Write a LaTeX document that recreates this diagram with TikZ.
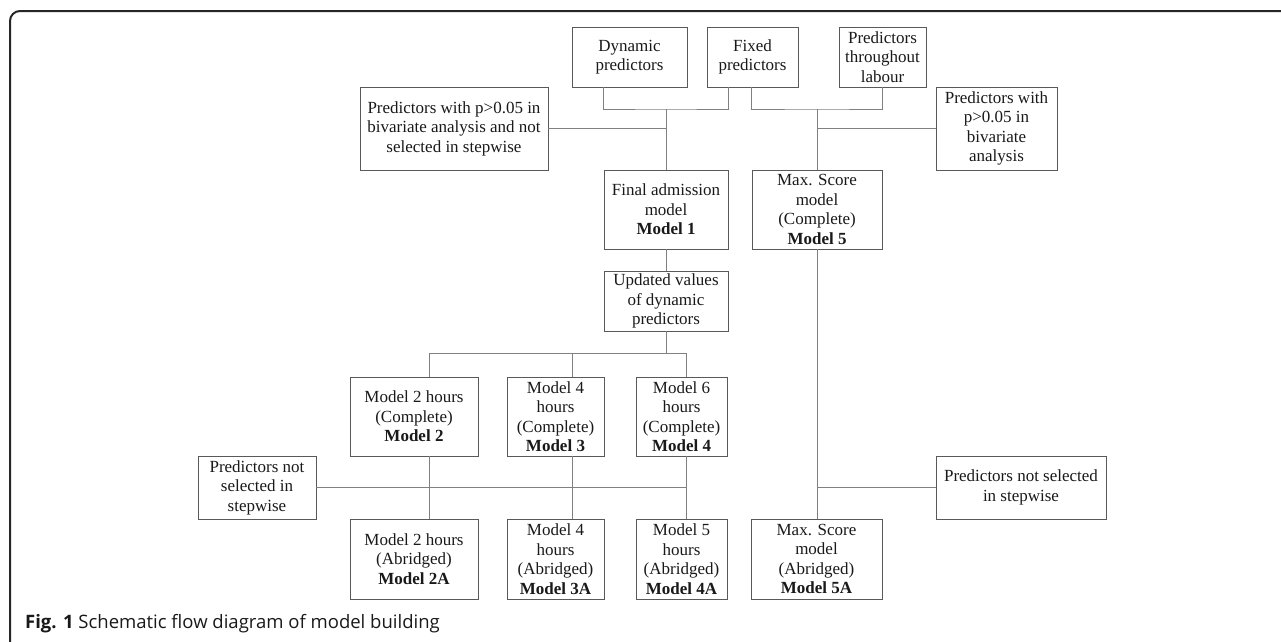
\documentclass[tikz,border=0pt]{standalone}
\usepackage{fontspec}
\setmainfont{Liberation Serif}
\newfontfamily\capfont{Open Sans}
\usetikzlibrary{calc}
\begin{document}
\begin{tikzpicture}[x=1pt,y=-1pt,
  box/.style={draw=black!65, line width=0.9pt, align=center, inner sep=0pt,
    text=black!90, font=\fontsize{17}{19.5}\selectfont},
  conn/.style={draw=black!50, line width=1pt},
  frame/.style={draw=black!85, line width=2pt, rounded corners=10pt}]
\useasboundingbox (0,0) rectangle (1281,641);
\draw[frame] (10,645) -- (10,11) -- (1285,11);

% top row
\node[box, minimum width=115pt, minimum height=60pt] (dyn) at (629.5,57) {Dynamic\\predictors};
\node[box, minimum width=91pt, minimum height=60pt] (fix) at (752.5,57) {Fixed\\predictors};
\node[box, minimum width=87pt, minimum height=60pt] (thr) at (882.5,57) {Predictors\\throughout\\labour};
\node[box, minimum width=188pt, minimum height=83pt] (pl) at (454,128.5) {Predictors with p>0.05 in\\bivariate analysis and not\\selected in stepwise};
\node[box, minimum width=121pt, minimum height=83pt] (pr) at (996.5,128.5) {Predictors with\\p>0.05 in\\bivariate\\analysis};
\node[box, minimum width=124pt, minimum height=79pt] (m1) at (666,209.5) {Final admission\\model\\\textbf{Model 1}};
\node[box, minimum width=130pt, minimum height=79pt] (m5) at (817,209.5) {Max. Score\\model\\(Complete)\\\textbf{Model 5}};
\node[box, minimum width=124pt, minimum height=60pt] (upd) at (666,301) {Updated values\\of dynamic\\predictors};

% complete models
\node[box, minimum width=128pt, minimum height=79pt] (m2) at (414,416.5) {Model 2 hours\\(Complete)\\\textbf{Model 2}};
\node[box, minimum width=97pt, minimum height=79pt] (m3) at (555.5,416.5) {Model 4\\hours\\(Complete)\\\textbf{Model 3}};
\node[box, minimum width=91pt, minimum height=79pt] (m4) at (681.5,416.5) {Model 6\\hours\\(Complete)\\\textbf{Model 4}};

% side boxes
\node[box, minimum width=118pt, minimum height=63pt] (nl) at (257,487.5) {Predictors not\\selected in\\stepwise};
\node[box, minimum width=170pt, minimum height=63pt] (nr) at (1021,487.5) {Predictors not selected\\in stepwise};

% abridged models
\node[box, minimum width=128pt, minimum height=80pt] (a2) at (414,559) {Model 2 hours\\(Abridged)\\\textbf{Model 2A}};
\node[box, minimum width=97pt, minimum height=80pt] (a3) at (555.5,559) {Model 4\\hours\\(Abridged)\\\textbf{Model 3A}};
\node[box, minimum width=91pt, minimum height=80pt] (a4) at (681.5,559) {Model 5\\hours\\(Abridged)\\\textbf{Model 4A}};
\node[box, minimum width=131pt, minimum height=80pt] (a5) at (816.5,559) {Max. Score\\model\\(Abridged)\\\textbf{Model 5A}};

% junction coordinates
\coordinate (j1) at (666,109);
\coordinate (j2) at (817,109);
\coordinate (bus) at (666,353);
\coordinate (b2) at (429,353);
\coordinate (b3) at (572,353);
\coordinate (b4) at (686,353);

% left tree
\draw[conn] (dyn.south -| m1.west) |- (j1) -| (fix.south -| m1.east);
\draw[conn] (j1) -- (m1.north);
\draw[conn] (pl.east) -- (pl.east -| j1);
% right tree
\draw[conn] (fix.south -| m5.west) |- (j2) -| (thr.south);
\draw[conn] (j2) -- (m5.north);
\draw[conn] (pr.west) -- (pr.west -| j2);
% model 1 to updated
\draw[conn] (m1.south) -- (upd.north);
\draw[conn] (upd.south) -- (bus);
\draw[conn] (b2) -- (b4);
\draw[conn] (b2) -- (b2 |- m2.north);
\draw[conn] (b3) -- (b3 |- m3.north);
\draw[conn] (b4) -- (b4 |- m4.north);
% complete to abridged
\draw[conn] (b2 |- m2.south) -- (b2 |- a2.north);
\draw[conn] (b3 |- m3.south) -- (b3 |- a3.north);
\draw[conn] (b4 |- m4.south) -- (b4 |- a4.north);
\draw[conn] (nl.east) -- (nl.east -| b4);
\draw[conn] (m5.south) -- (m5.south |- a5.north);
\draw[conn] (nr.west) -- (nr.west -| m5.south);

% caption
\node[anchor=base west, inner sep=0pt, font=\capfont\fontsize{18.5}{22}\selectfont, text=black!90] (cap) at (25,628) {\textbf{Fig. 1} Schematic flow diagram of model building};
\end{tikzpicture}
\end{document}
